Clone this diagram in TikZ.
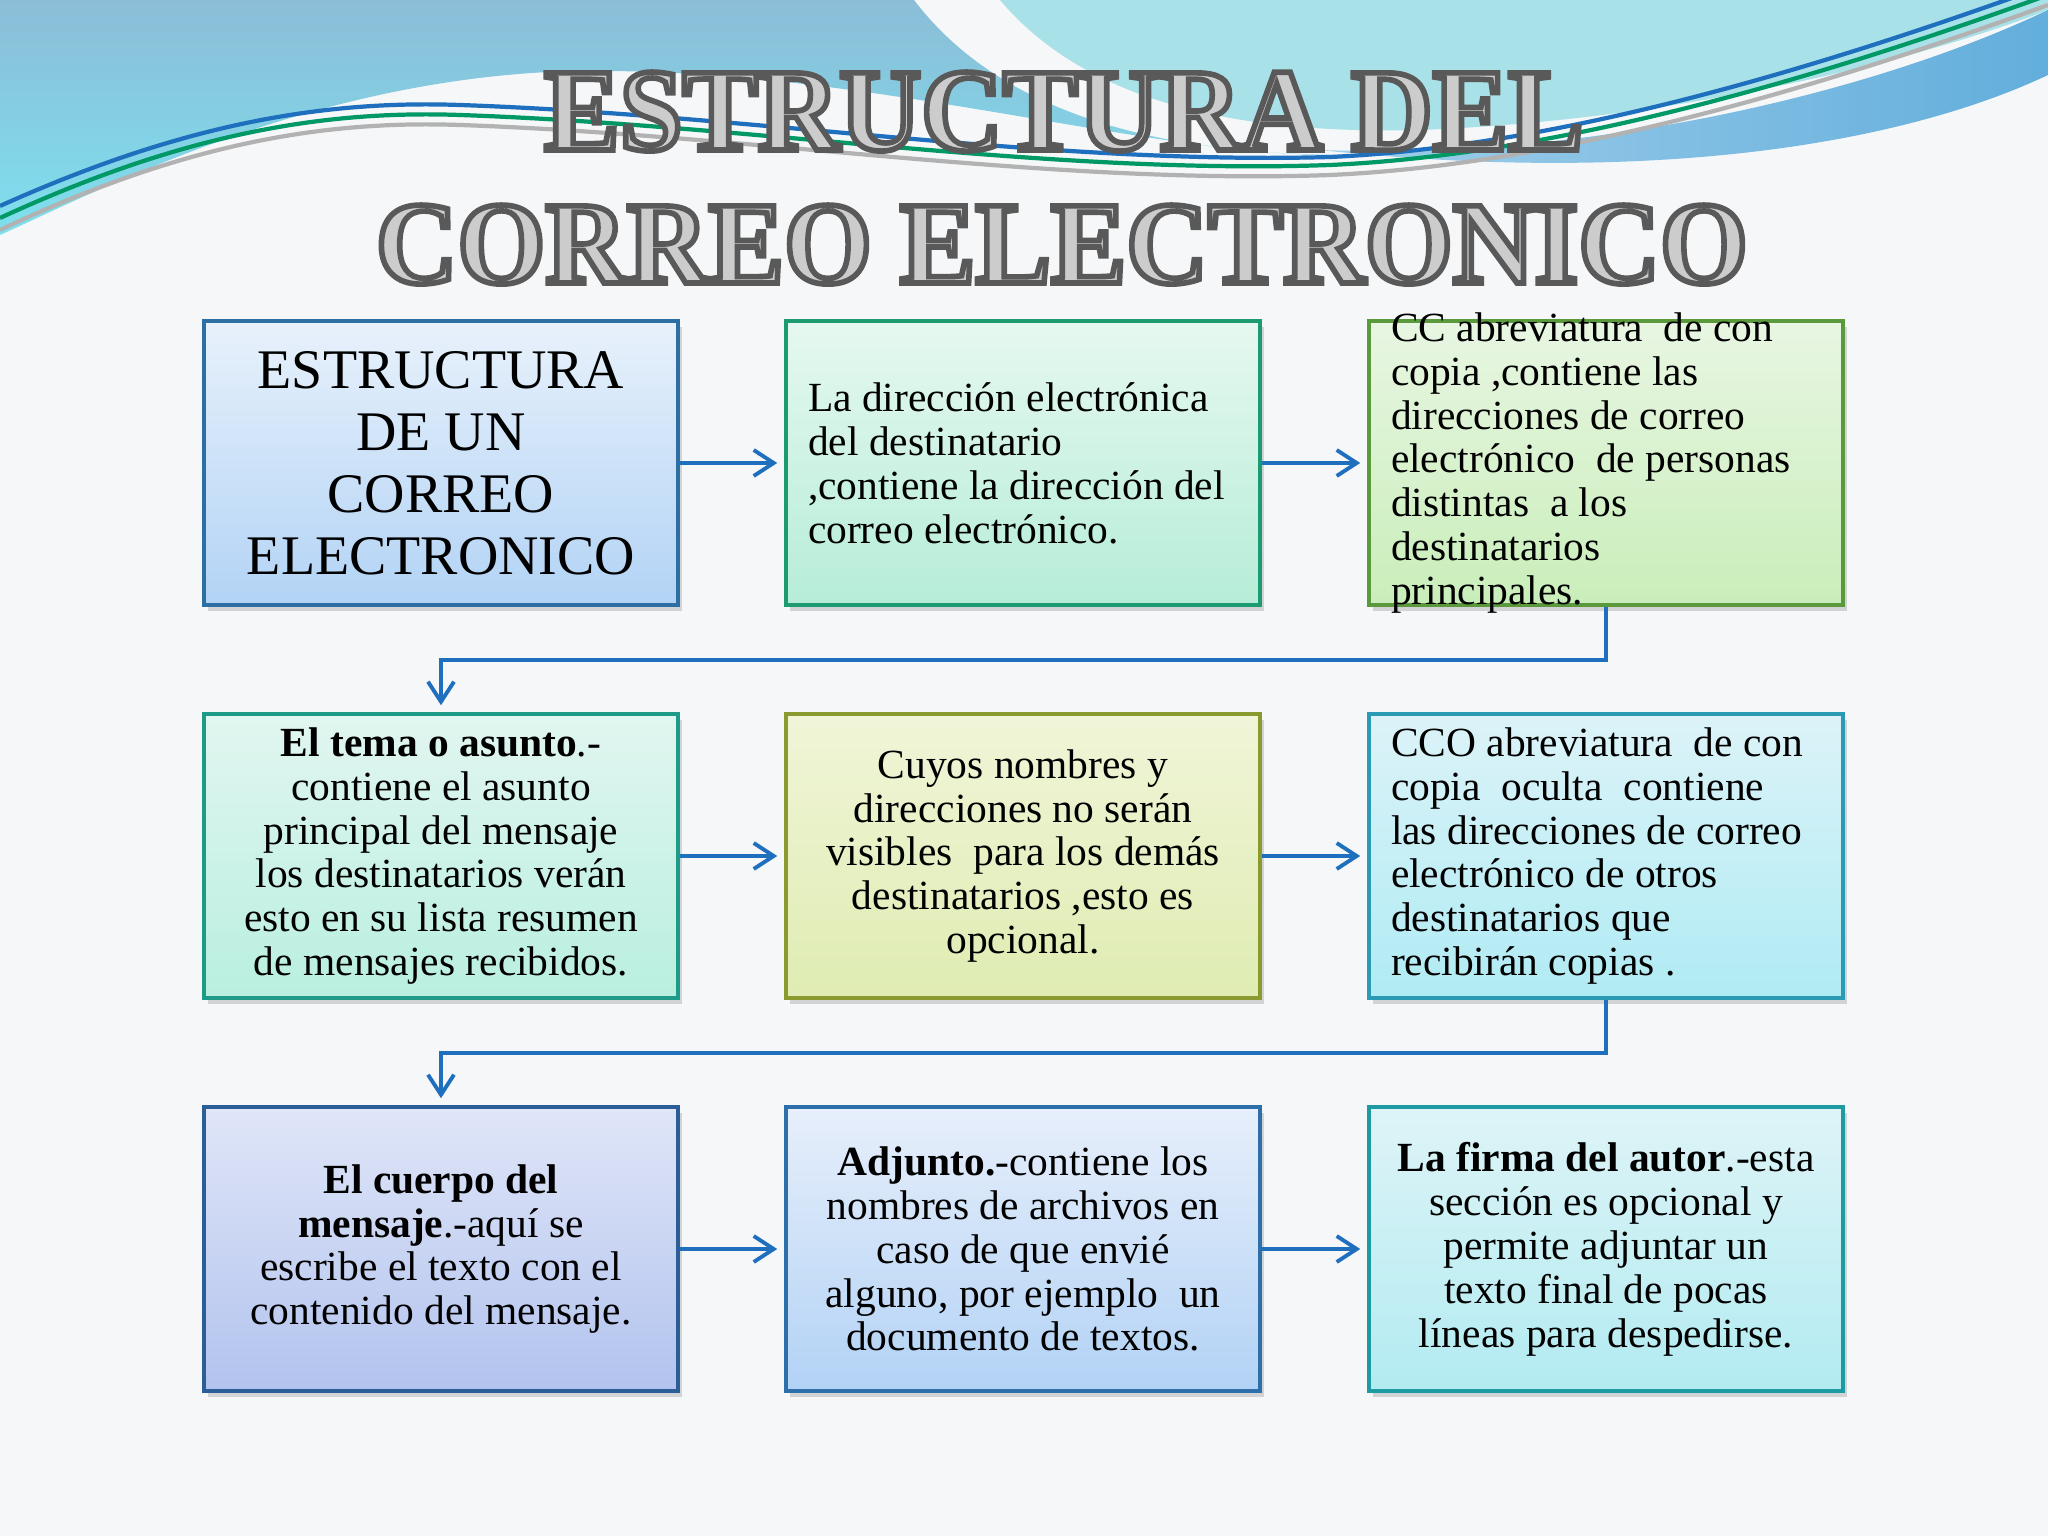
\documentclass[tikz,border=0pt]{standalone}
\usepackage{fontspec}
\setmainfont{Liberation Serif}
\newfontfamily\titlefont[FakeStretch=0.96]{Liberation Serif}
\usetikzlibrary{arrows.meta,shadows}

\definecolor{paper}{HTML}{F6F7F9}
\definecolor{wavetop}{HTML}{8BBDD7}
\definecolor{wavelow}{HTML}{7EE0EE}
\definecolor{wavecyan}{HTML}{A9E1E8}
\definecolor{waveband}{HTML}{62AEDC}
\definecolor{arrowblue}{HTML}{1F6FBF}
% box colours: line, top, bottom
\definecolor{estrline}{HTML}{2D6FA3}\definecolor{estrtop}{HTML}{E8F1FB}\definecolor{estrbot}{HTML}{B2D3F5}
\definecolor{dirline}{HTML}{1C9A70}\definecolor{dirtop}{HTML}{E6F8F0}\definecolor{dirbot}{HTML}{B6EDD8}
\definecolor{ccline}{HTML}{5A9A3C}\definecolor{cctop}{HTML}{E8F6E2}\definecolor{ccbot}{HTML}{C9EEBA}
\definecolor{temaline}{HTML}{1D9A88}\definecolor{tematop}{HTML}{E1F6F0}\definecolor{temabot}{HTML}{B9EFDF}
\definecolor{cuyline}{HTML}{8A9A2E}\definecolor{cuytop}{HTML}{F0F5D8}\definecolor{cuybot}{HTML}{DFECB2}
\definecolor{ccoline}{HTML}{2A9AB5}\definecolor{ccotop}{HTML}{DCF3F8}\definecolor{ccobot}{HTML}{B0EBF4}
\definecolor{cuerline}{HTML}{2B5D97}\definecolor{cuertop}{HTML}{E0E6F8}\definecolor{cuerbot}{HTML}{B2C3EE}
\definecolor{adjline}{HTML}{2C6FAB}\definecolor{adjtop}{HTML}{E7EFFB}\definecolor{adjbot}{HTML}{B2D2F5}
\definecolor{firline}{HTML}{1E9AA2}\definecolor{firtop}{HTML}{DEF4F7}\definecolor{firbot}{HTML}{B2EBF1}

\newcommand\boxfont{\fontsize{11.8}{12.5}\selectfont}
% grey letters with a dark stroke round them
\newcommand\engrave[1]{\textcolor{gray!40}{\special{pdf:literal q 2 Tr 1.6 w 0.35 0.35 0.35 RG}#1\special{pdf:literal Q}}}

\tikzset{
  box/.style={rectangle, line width=1pt, minimum width=4.74cm, minimum height=2.84cm,
    inner xsep=0.24cm, inner ysep=0.1cm, font=\boxfont,
    drop shadow={shadow xshift=0.04cm, shadow yshift=-0.06cm, opacity=0.3}},
  lbox/.style={box, align=flush left, inner xsep=0.22cm, text width=4.30cm},
  conn/.style={draw=arrowblue, line width=1.1pt,
    -{Straight Barb[length=0.2cm, width=0.26cm]}, shorten >=0.07cm},
  titlebase/.style={anchor=base, inner sep=0pt,
    font=\titlefont\bfseries\fontsize{33.5}{38}\selectfont},
}

\begin{document}
\begin{tikzpicture}
\useasboundingbox (0,0) rectangle (20.48,-15.36);
\fill[paper] (0,0) rectangle (20.48,-15.36);

% waves at the top
\shade[top color=wavetop, bottom color=wavelow]
  (0,0) -- (9.14,0) .. controls (9.9,-1.0) and (11.3,-1.55) .. (13.5,-1.55)
  .. controls (11.5,-1.6) and (8.5,-0.6) .. (5.48,-0.72)
  .. controls (3.0,-0.85) and (1.0,-1.9) .. (0,-2.35) -- cycle;
\fill[wavecyan] (10.0,0) .. controls (10.8,-0.95) and (12.2,-1.35) .. (14.2,-1.3)
  .. controls (16.8,-1.2) and (19.2,-0.6) .. (20.48,-0.1) -- (20.48,0) -- cycle;
\shade[left color=waveband!60!white, right color=waveband]
  (13.2,-1.5) .. controls (16.0,-1.6) and (18.8,-0.9) .. (20.48,-0.1)
  -- (20.48,-0.75) .. controls (19.0,-1.45) and (16.5,-1.85) .. (13.2,-1.5) -- cycle;
\draw[gray!60, line width=1.2pt] (0,-2.3) .. controls (1.8,-1.45) and (3.2,-1.2) .. (4.6,-1.25)
  .. controls (7.5,-1.35) and (10.5,-1.85) .. (13.3,-1.75) .. controls (15.5,-1.65) and (18,-0.95) .. (20.48,-0.05);
\draw[teal!80!green, line width=1.2pt] (0,-2.18) .. controls (1.8,-1.35) and (3.2,-1.1) .. (4.6,-1.15)
  .. controls (7.5,-1.25) and (10.5,-1.75) .. (13.3,-1.65) .. controls (15.5,-1.55) and (18,-0.85) .. (20.48,0.05);
\draw[arrowblue, line width=1.2pt] (0,-2.06) .. controls (1.8,-1.25) and (3.2,-1.0) .. (4.6,-1.05)
  .. controls (7.5,-1.15) and (10.5,-1.65) .. (13.3,-1.57) .. controls (15.5,-1.47) and (18,-0.75) .. (20.48,0.15);

% title
\node[titlebase] (tit1) at (10.64,-1.5) {\engrave{ESTRUCTURA DEL}};
\node[titlebase] (tit2) at (10.62,-2.83) {\engrave{CORREO ELECTRONICO}};

% first row
\node[box, draw=estrline, top color=estrtop, bottom color=estrbot, align=center,
  font=\fontsize{15.9}{17.6}\selectfont] (estr) at (4.41,-4.63)
  {ESTRUCTURA\\DE UN\\CORREO\\ELECTRONICO};
\node[lbox, draw=dirline, top color=dirtop, bottom color=dirbot] (dir) at (10.23,-4.63)
  {La dirección electrónica\\del destinatario\\,contiene la dirección del\\correo electrónico.};
\node[lbox, draw=ccline, top color=cctop, bottom color=ccbot, inner ysep=-0.2cm] (cc) at (16.06,-4.63)
  {CC abreviatura\ \ de con\\copia ,contiene las\\direcciones de correo\\electrónico\ \ de personas\\distintas\ \ a los\\destinatarios\\principales.};

% second row
\node[box, draw=temaline, top color=tematop, bottom color=temabot, align=center] (tema) at (4.41,-8.56)
  {\textbf{El tema o asunto}.-\\contiene el asunto\\principal del mensaje\\los destinatarios verán\\esto en su lista resumen\\de mensajes recibidos.};
\node[box, draw=cuyline, top color=cuytop, bottom color=cuybot, align=center] (cuyos) at (10.23,-8.56)
  {Cuyos nombres y\\direcciones no serán\\visibles\ \ para los demás\\destinatarios ,esto es\\opcional.};
\node[lbox, draw=ccoline, top color=ccotop, bottom color=ccobot] (cco) at (16.06,-8.56)
  {CCO abreviatura\ \ de con\\copia\ \ oculta\ \ contiene\\las direcciones de correo\\electrónico de otros\\destinatarios que\\recibirán copias .};

% third row
\node[box, draw=cuerline, top color=cuertop, bottom color=cuerbot, align=center] (cuerpo) at (4.41,-12.49)
  {\textbf{El cuerpo del}\\\textbf{mensaje}.-aquí se\\escribe el texto con el\\contenido del mensaje.};
\node[box, draw=adjline, top color=adjtop, bottom color=adjbot, align=center] (adj) at (10.23,-12.49)
  {\textbf{Adjunto.}-contiene los\\nombres de archivos en\\caso de que envié\\alguno, por ejemplo\ \ un\\documento de textos.};
\node[box, draw=firline, top color=firtop, bottom color=firbot, align=center] (firma) at (16.06,-12.49)
  {\textbf{La firma del autor}.-esta\\sección es opcional y\\permite adjuntar un\\texto final de pocas\\líneas para despedirse.};

% connectors
\draw[conn] (estr) -- (dir);
\draw[conn] (dir) -- (cc);
\draw[conn] (cc.south) -- ++(0,-0.53) -| (tema.north);
\draw[conn] (tema) -- (cuyos);
\draw[conn] (cuyos) -- (cco);
\draw[conn] (cco.south) -- ++(0,-0.53) -| (cuerpo.north);
\draw[conn] (cuerpo) -- (adj);
\draw[conn] (adj) -- (firma);
\end{tikzpicture}
\end{document}
